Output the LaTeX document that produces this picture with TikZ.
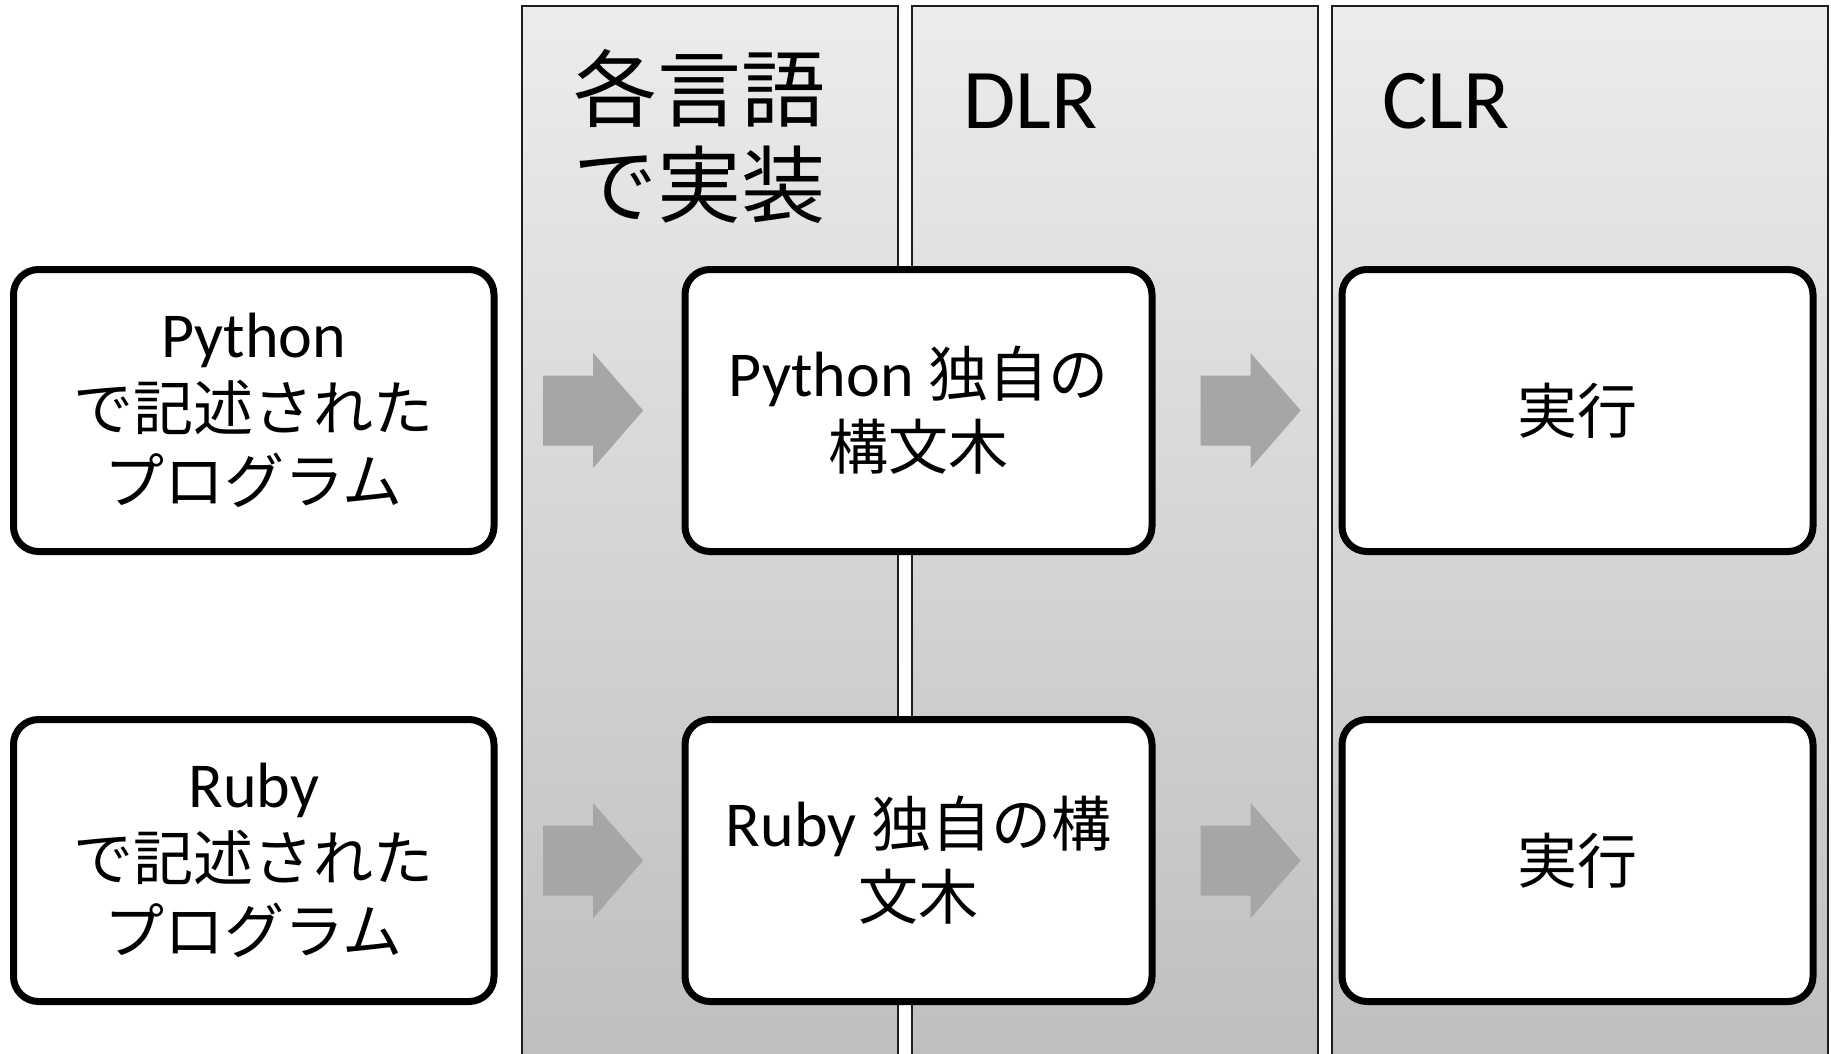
\documentclass[tikz,border=0pt]{standalone}
\usepackage{fontspec}
\setmainfont{Carlito}
\newfontfamily\jp{Noto Sans CJK JP}
\newcommand\jpcard{\jp\fontsize{60}{73}\selectfont}
\usetikzlibrary{calc}

\definecolor{laneborder}{RGB}{30,30,30}
\definecolor{lanetop}{RGB}{236,236,236}
\definecolor{lanebottom}{RGB}{191,191,191}
\definecolor{arrowgray}{RGB}{166,166,166}

\tikzset{
  laneedge/.style={draw=laneborder, line width=2pt},
  card/.style={draw=black, line width=7pt, rounded corners=25pt, fill=white,
    minimum height=282pt, inner sep=0pt, align=center,
    font=\fontsize{64}{73}\selectfont},
  heading/.style={inner sep=0pt, font=\fontsize{85}{100}\selectfont},
  blockarrow/.pic={
    \fill[arrowgray] (-50,-35) -- (0,-35) -- (0,-57.5) -- (50,0)
      -- (0,57.5) -- (0,35) -- (-50,35) -- cycle;
  }
}

\begin{document}
\begin{tikzpicture}[x=1pt,y=-1pt]
\useasboundingbox (0,0) rectangle (1831,1053);
\clip (0,0) rectangle (1831,1053);

% three shaded lanes, open at the bottom
\foreach \l/\r in {522/898, 912/1318, 1332/1828} {
  \shade[top color=lanetop, bottom color=lanebottom] (\l,6) rectangle (\r,1053);
  \draw[laneedge] (\l,1070) -- (\l,6) -- (\r,6) -- (\r,1070);
}

% lane headings
\node[anchor=north west, inner sep=0pt, align=left,
      font=\jp\fontsize{84}{96}\selectfont] (impl) at (573,49) {各言語\\で実装};
\node[heading, anchor=base west] (dlr) at (963,128) {DLR};
\node[heading, anchor=base west] (clr) at (1382,128) {CLR};

% Python row
\node[card, minimum width=480.5pt] (pyprog) at (253.75,410.5)
  {Python\\{\jpcard で記述された}\\{\jpcard プログラム}};
\node[card, minimum width=467pt] (pyast) at (918.5,410.5)
  {Python {\jpcard 独自の}\\{\jpcard 構文木}};
\node[card, minimum width=471pt] (pyrun) at (1577.5,410.5) {\jpcard 実行};

% Ruby row
\node[card, minimum width=480.5pt] (rbprog) at (253.75,860.5)
  {Ruby\\{\jpcard で記述された}\\{\jpcard プログラム}};
\node[card, minimum width=467pt] (rbast) at (918.5,860.5)
  {Ruby {\jpcard 独自の構}\\{\jpcard 文木}};
\node[card, minimum width=471pt] (rbrun) at (1577.5,860.5) {\jpcard 実行};

% block arrows between the stages
\pic at ($(pyprog.east)!0.52!(pyast.west)$) {blockarrow};
\pic at ($(pyast.east)!0.52!(pyrun.west)$) {blockarrow};
\pic at ($(rbprog.east)!0.52!(rbast.west)$) {blockarrow};
\pic at ($(rbast.east)!0.52!(rbrun.west)$) {blockarrow};
\end{tikzpicture}
\end{document}
